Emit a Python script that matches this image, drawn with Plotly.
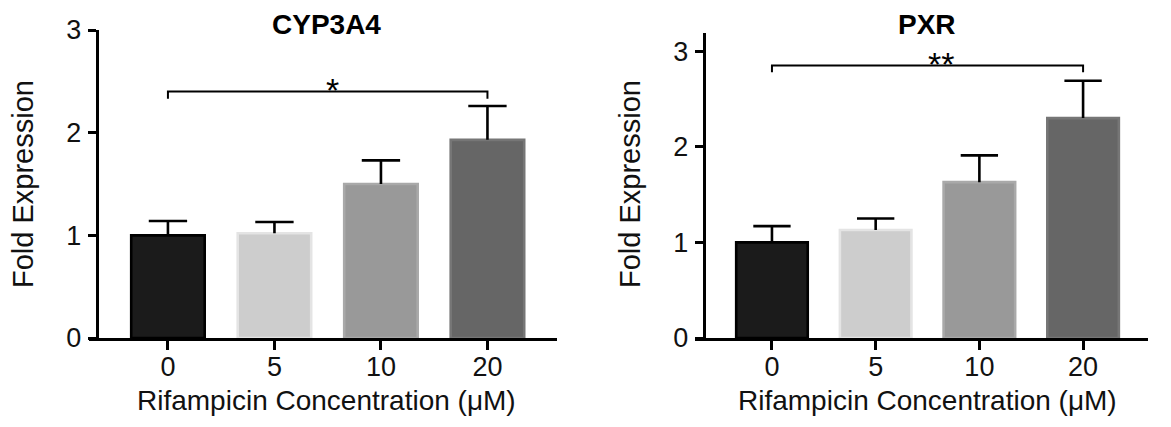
import plotly.graph_objects as go

# ---- data ----
concentrations = ["0", "5", "10", "20"]
cyp3a4_mean = [1.00, 1.02, 1.50, 1.93]
cyp3a4_sem = [0.14, 0.11, 0.23, 0.33]
pxr_mean = [1.00, 1.13, 1.63, 2.30]
pxr_sem = [0.17, 0.12, 0.28, 0.39]
panel_titles = ["CYP3A4", "PXR"]
y_title = "Fold Expression"
x_title = "Rifampicin Concentration (\u03bcM)"
y_ticks = [0, 1, 2, 3]
# significance brackets: (from category, to category, bracket level, drop level, label)
cyp3a4_sig = ("0", "20", 2.40, 2.33, "*")
pxr_sig = ("0", "20", 2.85, 2.78, "**")

# ---- styles / geometry ----
bar_fill = ["#1b1b1b", "#cdcdcd", "#999999", "#666666"]
bar_edge = ["#000000", "#e4e4e4", "#a9a9a9", "#767676"]
FONT = "Arial, Liberation Sans, sans-serif"
PAGE_OFF = 8              # default page margin of the html body
FW, FH = 1171 - PAGE_OFF, 427 - PAGE_OFF
BAR_W = 0.69
CAP = 0.18


def fx(px):
    return (px - PAGE_OFF) / FW


def fy(py):
    return (FH - (py - PAGE_OFF)) / FH


xpos = list(range(len(concentrations)))

fig = go.Figure()

panels = [
    dict(mean=cyp3a4_mean, sem=cyp3a4_sem, sig=cyp3a4_sig, title=panel_titles[0],
         xa="x", ya="y", xdom=[fx(88.6), fx(557)], ydom=[fy(338), fy(30)],
         xrange=[-0.745, 3.653], yrange=[0, 3], ypos=fx(96.5),
         title_x=326, xtitle_x=326, ytitle_x=23, star_shift=5),
    dict(mean=pxr_mean, sem=pxr_sem, sig=pxr_sig, title=panel_titles[1],
         xa="x2", ya="y2", xdom=[fx(694.6), fx(1148)], ydom=[fy(338), fy(33)],
         xrange=[-0.746, 3.626], yrange=[0, 3.19], ypos=fx(703.5),
         title_x=927, xtitle_x=928, ytitle_x=630, star_shift=13),
]

for p in panels:
    fig.add_trace(go.Bar(
        x=xpos, y=p["mean"], xaxis=p["xa"], yaxis=p["ya"], width=BAR_W,
        marker=dict(color=bar_fill, line=dict(color=bar_edge, width=2.6)),
        showlegend=False))
    # upper-only error whiskers
    ex, ey = [], []
    for xi, m, s in zip(xpos, p["mean"], p["sem"]):
        ex += [xi, xi, None, xi - CAP, xi + CAP, None]
        ey += [m, m + s, None, m + s, m + s, None]
    fig.add_trace(go.Scatter(
        x=ex, y=ey, xaxis=p["xa"], yaxis=p["ya"], mode="lines",
        line=dict(color="black", width=2.6), showlegend=False, hoverinfo="skip"))
    # significance bracket
    c0, c1, lvl, drop, lab = p["sig"]
    i0, i1 = concentrations.index(c0), concentrations.index(c1)
    fig.add_trace(go.Scatter(
        x=[i0, i0, i1, i1], y=[drop, lvl, lvl, drop], xaxis=p["xa"], yaxis=p["ya"],
        mode="lines", line=dict(color="black", width=2), showlegend=False, hoverinfo="skip"))

layout = dict(
    template="none",
    width=FW, height=FH, margin=dict(l=0, r=0, t=0, b=0, pad=0),
    paper_bgcolor="white", plot_bgcolor="white",
    font=dict(family=FONT, color="black", size=27),
    showlegend=False,
)

annotations = []
for i, p in enumerate(panels):
    sfx = "" if i == 0 else "2"
    layout["xaxis" + sfx] = dict(
        domain=p["xdom"], anchor="y" + sfx, range=p["xrange"],
        tickmode="array", tickvals=xpos, ticktext=concentrations,
        showline=True, linewidth=2.6, linecolor="black", ticks="outside", ticklen=9,
        tickwidth=2.6, tickcolor="black", showgrid=False, zeroline=False, automargin=False,
        ticklabelstandoff=-6,
        tickfont=dict(size=27, family=FONT, color="#111"),
    )
    layout["yaxis" + sfx] = dict(
        domain=p["ydom"], anchor="free", position=p["ypos"], range=p["yrange"],
        tickmode="array", tickvals=y_ticks, showline=True, linewidth=2.6, linecolor="black",
        ticks="outside", ticklen=8, tickwidth=2.6, tickcolor="black", showgrid=False,
        zeroline=False, automargin=False, ticklabelstandoff=1,
        tickfont=dict(size=27, family=FONT, color="#111"),
    )
    # panel title
    annotations.append(dict(
        text="<b>" + p["title"] + "</b>", x=fx(p["title_x"]), y=fy(25),
        xref="paper", yref="paper", xanchor="center", yanchor="middle", showarrow=False,
        font=dict(size=28, family=FONT, color="black")))
    # axis titles
    annotations.append(dict(
        text=x_title, x=fx(p["xtitle_x"]), y=fy(400), xref="paper", yref="paper",
        xanchor="center", yanchor="middle", showarrow=False,
        font=dict(size=28, family=FONT, color="#111")))
    annotations.append(dict(
        text=y_title, x=fx(p["ytitle_x"]), y=fy(184), xref="paper", yref="paper",
        xanchor="center", yanchor="middle", textangle=-90, showarrow=False,
        font=dict(size=29, family=FONT, color="#111")))
    # significance label
    c0, c1, lvl, drop, lab = p["sig"]
    i0, i1 = concentrations.index(c0), concentrations.index(c1)
    annotations.append(dict(
        text=lab, x=(i0 + i1) / 2, y=lvl, xref="x" + sfx, yref="y" + sfx, xanchor="center",
        yanchor="middle", showarrow=False, xshift=p["star_shift"], yshift=2,
        font=dict(size=34, family=FONT, color="black")))

layout["annotations"] = annotations
fig.update_layout(**layout)

fig.write_html("out.html")
